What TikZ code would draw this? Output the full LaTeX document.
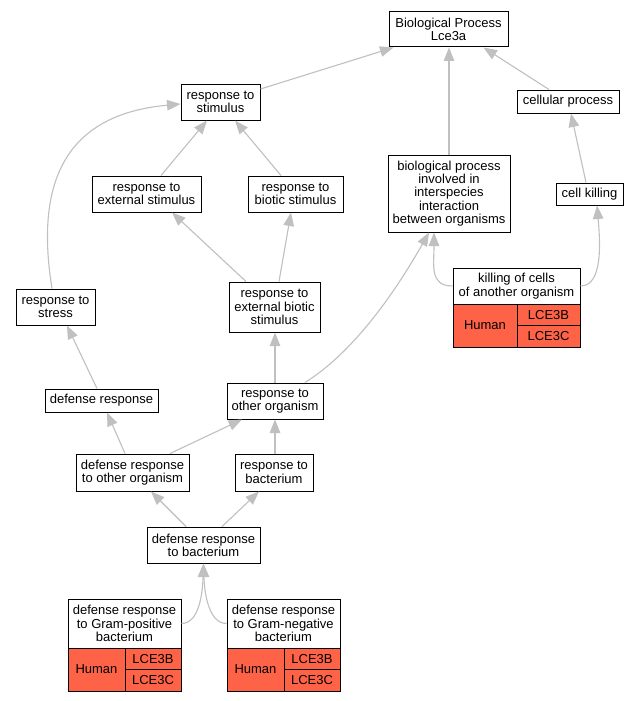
\documentclass[tikz,border=0pt]{standalone}
\usepackage{fontspec}
\setmainfont{Liberation Sans}
\usetikzlibrary{arrows.meta}
\definecolor{edgegray}{HTML}{C0C0C0}
\definecolor{hitred}{HTML}{FF6347}
\begin{document}
\begin{tikzpicture}[x=1pt,y=-1pt,
 box/.style={draw=black,line width=1pt,fill=white,inner sep=0pt,align=center,font=\fontsize{13}{13.3}\selectfont},
 cell/.style={box,fill=hitred},
 edge/.style={draw=edgegray,line width=1.1pt,-{Triangle[length=13.5pt,width=10.5pt]}}]
\useasboundingbox (0,0) rectangle (639,701);
\fill[white] (0,0) rectangle (639,701);
% nodes
\node[box,minimum width=119pt,minimum height=35pt] (bp) at (448.5,29.5) {Biological Process\\Lce3a};
\node[box,minimum width=79pt,minimum height=36pt] (stim) at (220.5,102) {response to\\stimulus};
\node[box,minimum width=109pt,minimum height=36pt] (extstim) at (146.5,194) {response to\\external stimulus};
\node[box,minimum width=95pt,minimum height=36pt] (biostim) at (295.5,194) {response to\\biotic stimulus};
\node[box,minimum width=79pt,minimum height=36pt] (stress) at (55.5,307) {response to\\stress};
\node[box,minimum width=91pt,minimum height=50pt] (extbio) at (274.5,307) {response to\\external biotic\\stimulus};
\node[box,minimum width=102pt,minimum height=23pt] (cellproc) at (568,101.5) {cellular process};
\node[box,minimum width=122pt,minimum height=77pt] (bpinv) at (449,193.5) {biological process\\involved in\\interspecies\\interaction\\between organisms};
\node[box,minimum width=67pt,minimum height=22pt] (cellkill) at (589.5,194) {cell killing};
\node[box,minimum width=127pt,minimum height=36pt] (kill) at (516.5,286) {killing of cells\\of another organism};
\node[cell,minimum width=64pt,minimum height=43pt] (killh) at (485,325.5) {Human};
\node[cell,minimum width=63pt,minimum height=21.5pt] (killb) at (548.5,314.75) {LCE3B};
\node[cell,minimum width=63pt,minimum height=21.5pt] (killc) at (548.5,336.25) {LCE3C};
\node[box,minimum width=113pt,minimum height=23pt] (defresp) at (101.5,400.5) {defense response};
\node[box,minimum width=96pt,minimum height=36pt] (otherorg) at (275,401) {response to\\other organism};
\node[box,minimum width=113pt,minimum height=37pt] (defother) at (132.5,472.5) {defense response\\to other organism};
\node[box,minimum width=78pt,minimum height=37pt] (respbact) at (274,472.5) {response to\\bacterium};
\node[box,minimum width=113pt,minimum height=36pt] (defbact) at (203.5,545) {defense response\\to bacterium};
\node[box,minimum width=113pt,minimum height=49pt] (gpos) at (124.5,623.5) {defense response\\to Gram-positive\\bacterium};
\node[cell,minimum width=57pt,minimum height=43pt] (gposh) at (96.5,669.5) {Human};
\node[cell,minimum width=56pt,minimum height=21.5pt] (gposb) at (153,658.75) {LCE3B};
\node[cell,minimum width=56pt,minimum height=21.5pt] (gposc) at (153,680.25) {LCE3C};
\node[box,minimum width=113pt,minimum height=49pt] (gneg) at (283.5,623.5) {defense response\\to Gram-negative\\bacterium};
\node[cell,minimum width=57pt,minimum height=43pt] (gnegh) at (255.5,669.5) {Human};
\node[cell,minimum width=56pt,minimum height=21.5pt] (gnegb) at (312,658.75) {LCE3B};
\node[cell,minimum width=56pt,minimum height=21.5pt] (gnegc) at (312,680.25) {LCE3C};
% edges
\draw[edge] ([yshift=13pt]stim.east) -- ([xshift=-55pt]bp.south);
\draw[edge] ([xshift=-19pt]cellproc.north) -- ([xshift=35pt]bp.south);
\draw[edge] (bpinv.north) -- (bpinv.north |- bp.south);
\draw[edge] ([xshift=-3.5pt]cellkill.north) -- ([xshift=3pt]cellproc.south);
\draw[edge] (kill.east) .. controls +(23,0) and +(3,35) .. ([xshift=7.5pt]cellkill.south);
\draw[edge] (kill.west) .. controls +(-23,0) and +(0,33) .. ([xshift=-15pt]bpinv.south);
\draw[edge] ([xshift=30pt]otherorg.north) .. controls +(45,-28) and +(-38,67) .. ([xshift=-20pt]bpinv.south);
\draw[edge] ([xshift=14.5pt]extstim.north) -- ([xshift=-13.5pt]stim.south);
\draw[edge] ([xshift=-14.5pt]biostim.north) -- ([xshift=14.5pt]stim.south);
\draw[edge] ([xshift=-28.5pt]extbio.north) -- ([xshift=25.5pt]extstim.south);
\draw[edge] ([xshift=4.5pt]extbio.north) -- ([xshift=-4.5pt]biostim.south);
\draw[edge] ([xshift=-3.5pt]stress.north) .. controls +(-16,-99) and +(-121,11) .. ([yshift=-2pt]stim.west);
\draw[edge] ([xshift=-4.5pt]defresp.north) -- ([xshift=11.5pt]stress.south);
\draw[edge] (otherorg.north) -- (otherorg.north |- extbio.south);
\draw[edge] ([xshift=-7.5pt]defother.north) -- ([xshift=5.5pt]defresp.south);
\draw[edge] ([xshift=37.5pt]defother.north) -- ([xshift=-33pt]otherorg.south);
\draw[edge] ([xshift=1pt]respbact.north) -- (otherorg.south);
\draw[edge] ([xshift=-17.5pt]defbact.north) -- ([xshift=18.5pt]defother.south);
\draw[edge] ([xshift=18.5pt]defbact.north) -- ([xshift=-15pt]respbact.south);
\draw[edge] (gpos.east) .. controls +(17,0) and +(-1,32) .. (defbact.south);
\draw[edge] (gneg.west) .. controls +(-17,0) and +(1,32) .. (defbact.south);
\end{tikzpicture}
\end{document}
